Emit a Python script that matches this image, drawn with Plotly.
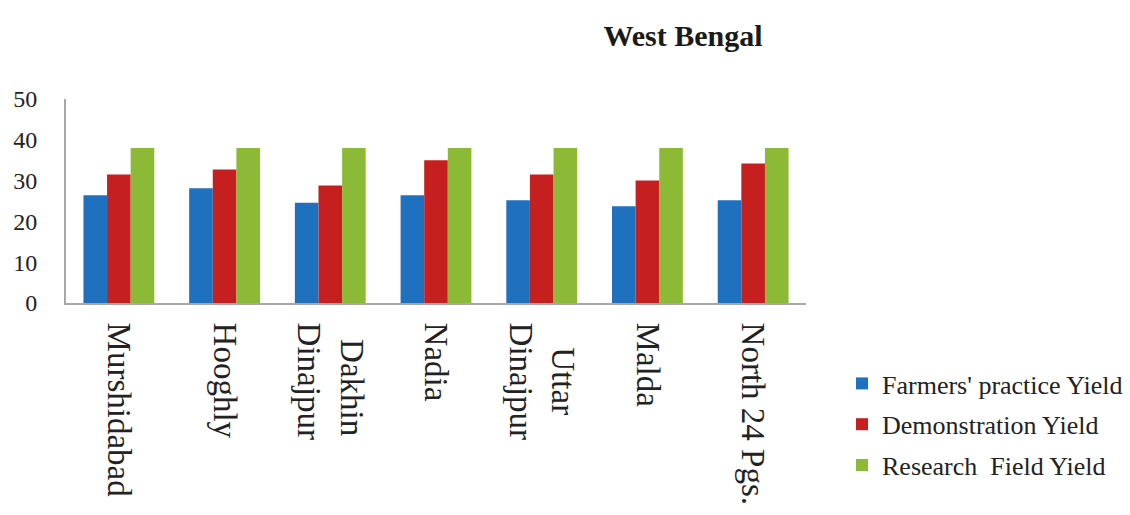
import plotly.graph_objects as go

categories = ["Murshidabad", "Hooghly", "\u00a0\u00a0Dakhin<br>Dinajpur", "Nadia",
              "\u00a0\u00a0\u00a0Uttar<br>Dinajpur", "Malda", "North 24 Pgs."]
farmers = [26.4, 28.1, 24.6, 26.4, 25.2, 23.7, 25.2]
demonstration = [31.5, 32.7, 28.8, 35.0, 31.5, 30.0, 34.2]
research = [38.0, 38.0, 38.0, 38.0, 38.0, 38.0, 38.0]
series_names = ["Farmers' practice Yield", "Demonstration Yield", "Research  Field Yield"]
y_ticks = [0, 10, 20, 30, 40, 50]

colors = ["#2070c0", "#c61f1f", "#8cba36"]
FONT = "Liberation Serif, Times New Roman, Times, serif"

fig = go.Figure()
for i, (name, vals) in enumerate(zip(series_names, [farmers, demonstration, research])):
    fig.add_trace(go.Bar(x=categories, y=vals, name=name.replace("  ", "\u00a0\u00a0"),
                         marker=dict(color=colors[i], line=dict(width=0)),
                         legendgroup=f"g{i}"))

fig.update_layout(
    width=1130, height=515,
    margin=dict(l=66, r=324, t=99, b=211.5, autoexpand=False),
    paper_bgcolor="white", plot_bgcolor="white",
    barmode="group", bargap=0.33, bargroupgap=0,
    font=dict(family=FONT, color="#222222"),
    title=dict(text="<b>West Bengal</b>", x=683 / 1130, xanchor="center",
               y=1 - 35 / 515, yanchor="middle",
               font=dict(family=FONT, size=30, color="#1a1a1a")),
    showlegend=True,
    legend=dict(xref="container", yref="container", x=842 / 1130, xanchor="left",
                y=1 - 360 / 515, yanchor="top",
                font=dict(family=FONT, size=26, color="#222222"),
                traceorder="grouped", tracegroupgap=4, bgcolor="rgba(0,0,0,0)"),
)
fig.update_xaxes(showline=True, linecolor="#a8a8a8", linewidth=2, showgrid=False,
                 ticks="", tickangle=90, tickfont=dict(family=FONT, size=33, color="#222222"),
                 automargin=False, ticklabelstandoff=11)
fig.update_yaxes(range=[0, 50], tickvals=y_ticks, showline=True, linecolor="#a8a8a8", linewidth=2,
                 showgrid=False, zeroline=False, ticks="",
                 tickfont=dict(family=FONT, size=24, color="#222222"),
                 automargin=False, ticklabelstandoff=22)

fig.write_html("out.html")
